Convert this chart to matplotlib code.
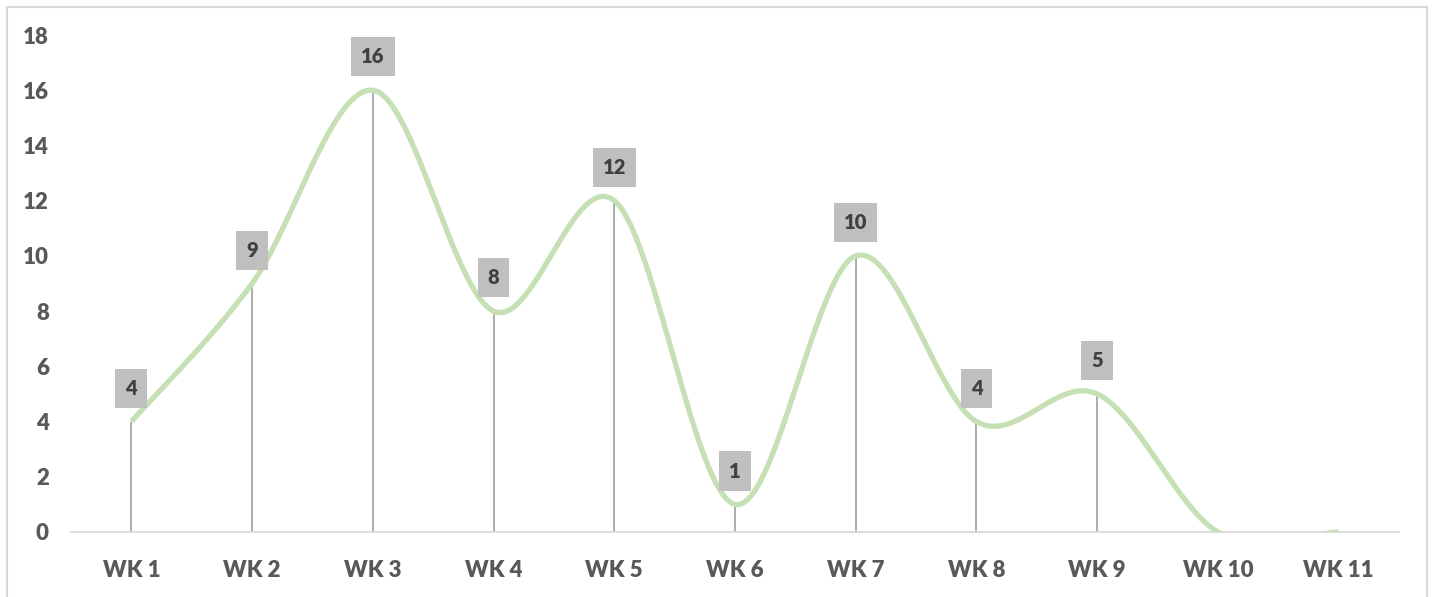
import numpy as np
import matplotlib
matplotlib.use("Agg")
import matplotlib.pyplot as plt
from matplotlib.patches import Rectangle

categories = ["WK 1", "WK 2", "WK 3", "WK 4", "WK 5", "WK 6", "WK 7", "WK 8", "WK 9", "WK 10", "WK 11"]
values = [4, 9, 16, 8, 12, 1, 10, 4, 5, 0, 0]
yticks = [0, 2, 4, 6, 8, 10, 12, 14, 16, 18]

plt.rcParams['font.family'] = ['Lato', 'DejaVu Sans']

W, H = 1434, 597
fig = plt.figure(figsize=(W / 100, H / 100), dpi=100)
ax = fig.add_axes([71 / W, 1 - 532 / H, (1399 - 71) / W, (532 - 35) / H])

x = np.arange(len(values), dtype=float)
y = np.array(values, dtype=float)

# Excel-style smoothed line (Catmull-Rom Bezier)
px, py = [], []
n = len(x)
for i in range(n - 1):
    p0 = (x[max(i - 1, 0)], y[max(i - 1, 0)])
    p1 = (x[i], y[i])
    p2 = (x[i + 1], y[i + 1])
    p3 = (x[min(i + 2, n - 1)], y[min(i + 2, n - 1)])
    c1 = (p1[0] + (p2[0] - p0[0]) / 6, p1[1] + (p2[1] - p0[1]) / 6)
    c2 = (p2[0] - (p3[0] - p1[0]) / 6, p2[1] - (p3[1] - p1[1]) / 6)
    t = np.linspace(0, 1, 60)
    bx = (1 - t) ** 3 * p1[0] + 3 * (1 - t) ** 2 * t * c1[0] + 3 * (1 - t) * t ** 2 * c2[0] + t ** 3 * p2[0]
    by = (1 - t) ** 3 * p1[1] + 3 * (1 - t) ** 2 * t * c1[1] + 3 * (1 - t) * t ** 2 * c2[1] + t ** 3 * p2[1]
    px.extend(bx)
    py.extend(by)

# drop lines
ax.vlines(x, 0, y, color="#A6A6A6", lw=1.3, zorder=2)
ax.plot(px, py, color="#C5E0B4", lw=3.8, solid_capstyle="butt", zorder=3)

for xi, yi in zip(x, y):
    if yi > 0:
        ax.annotate(f"{int(yi)}", (xi, yi), xytext=(0, 24), textcoords="offset points",
                    ha="center", va="center", fontsize=14.5, fontweight="heavy", color="#404040",
                    bbox=dict(boxstyle="square,pad=0.5", fc="#BFBFBF", ec="none"), zorder=4)

ax.set_xlim(-0.5, len(values) - 0.5)
ax.set_ylim(0, 18)
ax.set_xticks(x)
ax.set_xticklabels(categories)
ax.set_yticks(yticks)
for s in ["top", "right", "left"]:
    ax.spines[s].set_visible(False)
ax.spines["bottom"].set_color("#D9D9D9")
ax.spines["bottom"].set_linewidth(1.3)
ax.tick_params(axis="both", length=0, labelsize=16, labelcolor="#595959")
ax.tick_params(axis="x", pad=20)
ax.tick_params(axis="y", pad=16)
for lab in ax.get_xticklabels() + ax.get_yticklabels():
    lab.set_fontweight("heavy")

# chart frame
fig.patches.append(Rectangle((7 / W, -0.1), (1427 - 7) / W, 1 - 7 / H + 0.1,
                             transform=fig.transFigure, fill=False, ec="#D9D9D9", lw=1.5))

fig.savefig("out.png", dpi=100)
